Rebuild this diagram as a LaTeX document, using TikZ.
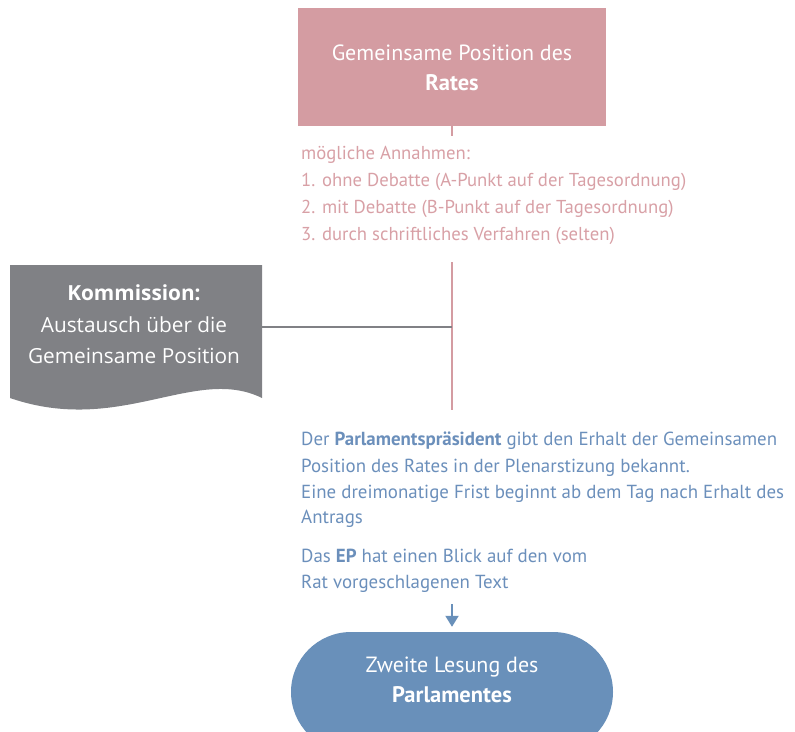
\documentclass[tikz,border=0pt]{standalone}
\usepackage{fontspec}
\setmainfont{PT Sans}
\newfontfamily\komfont{Open Sans}
\usetikzlibrary{arrows.meta}

\definecolor{ratrose}{HTML}{D49CA2}
\definecolor{rosetext}{HTML}{D8A0A6}
\definecolor{komgray}{HTML}{808185}
\definecolor{epblue}{HTML}{6990BA}
\definecolor{bluetext}{HTML}{6B8FBB}

\tikzset{
  ratbox/.style={fill=ratrose, draw=none, minimum width=308pt, minimum height=118pt, inner sep=0pt},
  lesebox/.style={fill=epblue, draw=none, minimum width=322pt, minimum height=120pt, rounded corners=60pt, inner sep=0pt},
  whitetext/.style={text=white, inner sep=0pt, anchor=base, font=\fontsize{22}{26}\selectfont},
  whitebold/.style={whitetext, font=\bfseries\fontsize{22.5}{26}\selectfont},
  komtext/.style={text=white, inner sep=0pt, anchor=base, font=\komfont\fontsize{20.8}{24}\selectfont},
  roseline/.style={draw=ratrose, line width=2pt},
  grayline/.style={draw=komgray, line width=2.5pt},
  roseitem/.style={text=rosetext, inner sep=0pt, anchor=base west, font=\fontsize{18.7}{22}\selectfont},
  blueitem/.style={text=bluetext, inner sep=0pt, anchor=base west, font=\fontsize{18.9}{22}\selectfont},
  bluearrow/.style={draw=epblue, line width=2pt, -{Triangle[length=11pt,width=13pt]}, shorten >=5pt}
}

\begin{document}
\begin{tikzpicture}[x=1pt,y=-1pt]
\useasboundingbox (0,0) rectangle (795,731);
\clip (0,0) rectangle (795,731);

% Council position box
\node[ratbox] (rat) at (452,67) {};
\node[whitetext] (ratA) at (452,60) {Gemeinsame Position des};
\node[whitebold] (ratB) at (452,90) {Rates};
\coordinate (tick) at (452,136);
\draw[roseline] (rat.south) -- (tick);

% possible adoptions
\node[roseitem] (p1) at (301,159) {mögliche Annahmen:};
\node[roseitem] (p2) at (301,186) {1. ohne Debatte (A-Punkt auf der Tagesordnung)};
\node[roseitem] (p3) at (301,213) {2. mit Debatte (B-Punkt auf der Tagesordnung)};
\node[roseitem] (p4) at (301,240) {3. durch schriftliches Verfahren (selten)};

% main vertical line
\coordinate (vtop) at (452,262);
\coordinate (vmid) at (452,327);
\coordinate (vbot) at (452,410);
\draw[roseline] (vtop) -- (vbot);

% Commission box with wavy bottom edge
\fill[komgray] (10,265) -- (262,265) -- (262,398)
  .. controls (195,365) and (120,436) .. (10,398) -- cycle;
\coordinate (kom-e) at (262,327);
\node[komtext, font=\komfont\bfseries\fontsize{20.8}{24}\selectfont] (komA) at (134,300) {Kommission:};
\node[komtext] (komB) at (134,332) {Austausch über die};
\node[komtext] (komC) at (134,363) {Gemeinsame Position};
\draw[grayline] (kom-e) -- (vmid);

% Parliament announcement
\node[blueitem] (b1) at (301,445) {Der \textbf{Parlamentspräsident} gibt den Erhalt der Gemeinsamen};
\node[blueitem] (b2) at (301,472) {Position des Rates in der Plenarstizung bekannt.};
\node[blueitem] (b3) at (301,498) {Eine dreimonatige Frist beginnt ab dem Tag nach Erhalt des};
\node[blueitem] (b4) at (301,523) {Antrags};
\node[blueitem] (b5) at (301,562) {Das \textbf{EP} hat einen Blick auf den vom};
\node[blueitem] (b6) at (301,588) {Rat vorgeschlagenen Text};

% second reading
\node[lesebox] (lesung) at (452,692) {};
\node[whitetext] (lesA) at (452,672) {Zweite Lesung des};
\node[whitebold] (lesB) at (452,702) {Parlamentes};
\coordinate (arrtop) at (452,604);
\draw[bluearrow] (arrtop) -- (lesung.north);
\end{tikzpicture}
\end{document}
